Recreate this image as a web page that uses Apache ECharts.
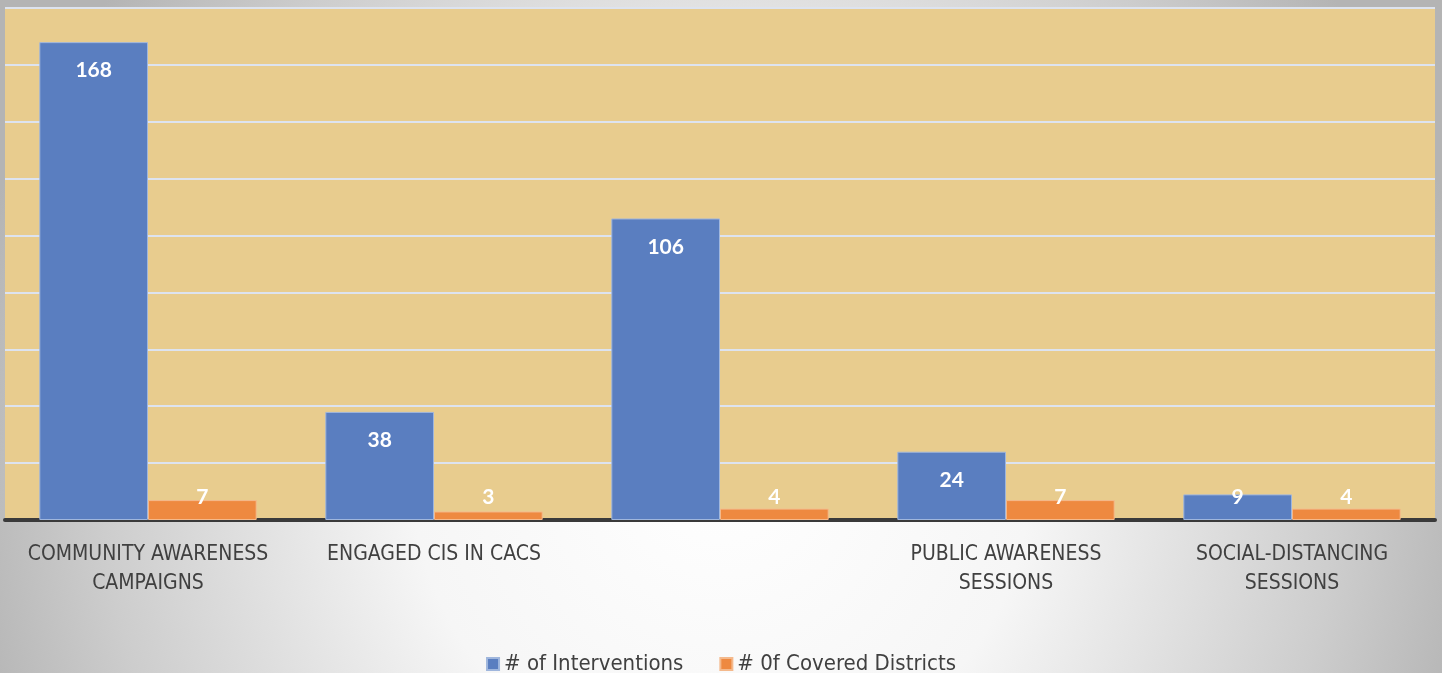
<!DOCTYPE html>
<html>
<head>
<meta charset="utf-8">
<script src="https://cdn.jsdelivr.net/npm/echarts@6/dist/echarts.min.js"></script>
<style>
  html, body { margin: 0; padding: 0; }
  #main { width: 1442px; height: 673px; }
</style>
</head>
<body>
<div id="main"></div>
<script>
// categories and values
var categories = ['COMMUNITY AWARENESS\nCAMPAIGNS', 'ENGAGED CIS IN CACS', '', 'PUBLIC AWARENESS\nSESSIONS', 'SOCIAL-DISTANCING\nSESSIONS'];
var interventions = [168, 38, 106, 24, 9];
var coveredDistricts = [7, 3, 4, 7, 4];
var legendNames = ['# of Interventions', '# 0f Covered Districts'];

var textFont = '"Liberation Sans Narrow", "DejaVu Sans Condensed", Lato, sans-serif';

// short bars get their label near the base, like the original
function toItems(values) {
	return values.map(function (v) {
		if (v > 20) {
			return { value: v, label: { position: 'insideTop', distance: 18 } };
		}
		return { value: v, label: { position: 'insideBottom', distance: 12 } };
	});
}

var barLabel = {
	show: true,
	color: '#ffffff',
	fontFamily: 'Lato',
	fontWeight: 'bold',
	fontSize: 21
};

var option = {
	backgroundColor: {
		type: 'radial', x: 0.5, y: 0.7, r: 1.15,
		colorStops: [
			{ offset: 0, color: '#ffffff' },
			{ offset: 0.4, color: '#f6f6f6' },
			{ offset: 0.8, color: '#cdcdcd' },
			{ offset: 1, color: '#b4b4b4' }
		]
	},
	animation: false,
	grid: {
		left: 5, right: 7, top: 8, bottom: 153,
		show: true,
		backgroundColor: '#E8CC8E',
		borderWidth: 0
	},
	legend: {
		data: legendNames,
		top: 648,
		left: 'center',
		itemWidth: 12,
		itemHeight: 12,
		itemGap: 36,
		icon: 'rect',
		textStyle: { color: '#404040', fontSize: 22, fontFamily: textFont }
	},
	xAxis: {
		type: 'category',
		data: categories,
		axisLine: { show: true, lineStyle: { color: '#3a3a3a', width: 4 } },
		axisTick: { show: false },
		axisLabel: {
			color: '#404040',
			fontSize: 21,
			fontFamily: textFont,
			lineHeight: 29,
			margin: 20,
			interval: 0
		}
	},
	yAxis: {
		type: 'value',
		min: 0,
		max: 180,
		interval: 20,
		axisLabel: { show: false },
		axisLine: { show: false },
		axisTick: { show: false },
		splitLine: { lineStyle: { color: '#dde3ef', width: 2 } }
	},
	series: [
		{
			name: legendNames[0],
			type: 'bar',
			data: toItems(interventions),
			barGap: '0%',
			barCategoryGap: '24%',
			itemStyle: { color: '#5A7EC0', borderColor: '#9fb6dd', borderWidth: 1 },
			label: barLabel
		},
		{
			name: legendNames[1],
			type: 'bar',
			data: toItems(coveredDistricts),
			itemStyle: { color: '#EE8940', borderColor: '#f4b98c', borderWidth: 1 },
			label: barLabel
		}
	]
};

var domMain = document.getElementById('main');
var chart = echarts.init(domMain);
chart.setOption(option);
</script>
</body>
</html>
